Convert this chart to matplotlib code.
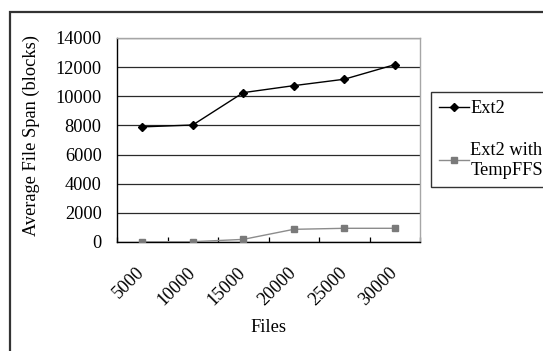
import matplotlib
matplotlib.use("Agg")
import matplotlib.pyplot as plt
from matplotlib.patches import Rectangle


# ----------------------------
# DATA
# ----------------------------
FILES = ["5000", "10000", "15000", "20000", "25000", "30000"]
EXT2_SPAN = [7900, 8030, 10250, 10730, 11170, 12170]
TEMPFFS_SPAN = [20, 20, 180, 870, 940, 940]
Y_TICKS = [0, 2000, 4000, 6000, 8000, 10000, 12000, 14000]

FONT_SIZE = 13.2


def make_figure(output_file: str) -> None:
    plt.rcParams["font.family"] = ["Liberation Serif", "DejaVu Serif"]
    plt.rcParams["font.size"] = FONT_SIZE

    fig = plt.figure(figsize=(5.43, 3.51), dpi=100)
    ax = fig.add_axes([117 / 543, 1 - 242 / 351, 303 / 543, 204 / 351])

    # chart frame, only left and top edges fall inside the canvas
    fig.patches.append(Rectangle(
        (10 / 543, -0.2), 1.2, 0.2 + (1 - 12 / 351),
        transform=fig.transFigure, fill=False,
        edgecolor="#333333", linewidth=1.6,
    ))

    centers = [i + 0.5 for i in range(len(FILES))]

    ax.plot(centers, EXT2_SPAN, color="black", linewidth=1.0,
            marker="D", markersize=3.6, label="Ext2", zorder=4)
    ax.plot(centers, TEMPFFS_SPAN, color="#8c8c8c", linewidth=1.0,
            marker="s", markersize=4.5, markerfacecolor="#7a7a7a",
            markeredgecolor="#7a7a7a", label="Ext2 with\nTempFFS", zorder=4)

    ax.set_xlim(0, len(FILES))
    ax.set_ylim(0, 14000)

    # category labels sit between the tick marks
    ax.set_xticks(range(len(FILES) + 1))
    ax.set_xticklabels([])
    ax.tick_params(axis="x", which="major", direction="in", length=3.8,
                   width=0.9, color="black")
    ax.set_xticks(centers, minor=True)
    ax.set_xticklabels(FILES, minor=True, rotation=45, ha="right",
                       va="center", rotation_mode="anchor")
    ax.tick_params(axis="x", which="minor", length=0, pad=20)

    ax.set_yticks(Y_TICKS)
    ax.tick_params(axis="y", length=0, pad=11)
    ax.yaxis.grid(True, color="#2a2a2a", linewidth=0.9)
    ax.set_axisbelow(True)

    for side in ("left", "bottom"):
        ax.spines[side].set_color("black")
        ax.spines[side].set_linewidth(1.0)
    for side in ("top", "right"):
        ax.spines[side].set_color("#a6a6a6")
        ax.spines[side].set_linewidth(1.0)

    ax.set_xlabel("Files")
    ax.xaxis.set_label_coords(0.5, -0.42)
    ax.xaxis.label.set_va("center")
    ax.set_ylabel("Average File Span (blocks)")
    ax.yaxis.set_label_coords(-0.284, 0.52)
    ax.yaxis.label.set_va("center")

    leg = fig.legend(
        loc="upper left", bbox_to_anchor=(431 / 543, 1 - 92 / 351),
        frameon=True, fancybox=False, edgecolor="black",
        handlelength=1.6, handletextpad=0.1, borderpad=0.45,
        borderaxespad=0, labelspacing=1.35, numpoints=1,
    )
    leg.get_frame().set_linewidth(1.0)
    for text in leg.get_texts():
        text.set_multialignment("left")

    fig.savefig(output_file, dpi=100)
    plt.close(fig)


def main() -> None:
    make_figure("out.png")


if __name__ == "__main__":
    main()
